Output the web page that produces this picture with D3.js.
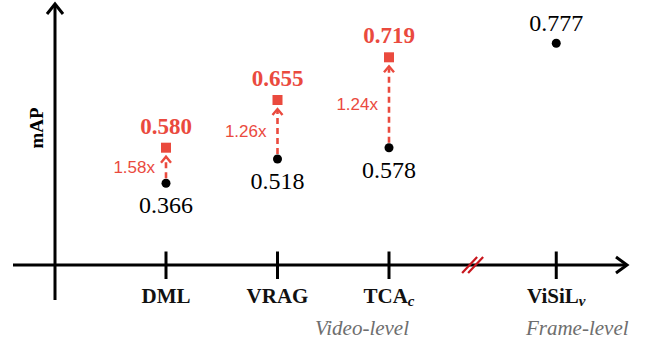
<!DOCTYPE html>
<html>
<head>
<meta charset="utf-8">
<script src="https://cdn.jsdelivr.net/npm/d3@7"></script>
<style>
  html, body { margin: 0; padding: 0; background: #fff; }
  svg { display: block; }
  .serif { font-family: "Liberation Serif", "Times New Roman", Tinos, "Noto Serif", "DejaVu Serif", serif; }
  .sans { font-family: "Liberation Sans", Arial, Roboto, sans-serif; }
</style>
</head>
<body>
<svg id="chart" width="655" height="345"></svg>
<script>
// ---- data ----
const categories = ["DML", "VRAG", "TCA", "ViSiL"];
const subscripts = ["", "", "c", "v"];
const groups = ["Video-level", "Video-level", "Video-level", "Frame-level"];
const baseline = [0.366, 0.518, 0.578, 0.777];
const improved = [0.580, 0.655, 0.719, null];
const speedups = ["1.58x", "1.26x", "1.24x", null];
const yAxisLabel = "mAP";

// ---- drawing ----
const svg = d3.select("#chart");
const RED = "#ea4a3e";

const axisY = 265, axisX = 55;

// x: index positions, with half-step gap between groups (axis break)
const xIndex = [];
let off = 0;
categories.forEach((c, i) => {
  if (i > 0 && groups[i] !== groups[i - 1]) off += 0.5;
  xIndex.push(i + off);
});
const x = d3.scaleLinear().domain([0, 2]).range([166, 389]);

// y: schematic (non-linear) value axis drawn as a polylinear scale
const yVals = [0.366, 0.518, 0.578, 0.580, 0.655, 0.719, 0.777];
const y = d3.scaleLinear()
  .domain(yVals)
  .range([183.3, 159, 147.7, 147.7, 100, 57.3, 43.3]);

// axes
const ax = svg.append("g").attr("stroke", "#000").attr("stroke-width", 3).attr("fill", "none");
ax.append("line").attr("x1", 13).attr("x2", 627).attr("y1", axisY).attr("y2", axisY);
ax.append("line").attr("x1", axisX).attr("x2", axisX).attr("y1", 4).attr("y2", 300);
ax.append("path").attr("d", `M${axisX - 8},14 L${axisX},4 L${axisX + 8},14`).attr("stroke-linejoin", "miter");
ax.append("path").attr("d", `M616,257 L627,265 L616,273`).attr("stroke-linejoin", "miter");

// ticks
categories.forEach((c, i) => {
  ax.append("line").attr("x1", x(xIndex[i])).attr("x2", x(xIndex[i]))
    .attr("y1", axisY - 13.5).attr("y2", axisY + 14);
});

// axis break
const bx = (x(xIndex[2]) + x(xIndex[3])) / 2;
[-3, 3].forEach(dx => {
  svg.append("line").attr("x1", bx + dx - 7.5).attr("y1", axisY + 8)
    .attr("x2", bx + dx + 7.5).attr("y2", axisY - 8)
    .attr("stroke", "#c8161d").attr("stroke-width", 2.2);
});

// y label
svg.append("text").attr("class", "serif").attr("transform", `translate(43,128) rotate(-90)`)
  .attr("text-anchor", "middle").attr("font-weight", "bold")
  .attr("font-size", 19).text(yAxisLabel);

// category labels
categories.forEach((c, i) => {
  const t = svg.append("text").attr("class", "serif").attr("x", x(xIndex[i])).attr("y", 303)
    .attr("text-anchor", "middle").attr("font-weight", "bold")
    .attr("font-size", 21).attr("fill", "#111");
  t.append("tspan").text(c);
  if (subscripts[i]) {
    t.append("tspan").attr("font-style", "italic").attr("font-size", 15).attr("dy", 3).text(subscripts[i]);
  }
});

// group labels
const groupPos = [{ g: "Video-level", ref: 2, dx: -27 }, { g: "Frame-level", ref: 3, dx: 21 }];
groupPos.forEach(p => {
  svg.append("text").attr("class", "serif").attr("x", x(xIndex[p.ref]) + p.dx).attr("y", 335)
    .attr("text-anchor", "middle").attr("font-style", "italic")
    .attr("font-size", 21).attr("fill", "#6e6e6e").text(p.g);
});

// arrows + improved points
categories.forEach((c, i) => {
  const cx = x(xIndex[i]);
  const yb = y(baseline[i]);
  if (improved[i] != null) {
    const yi = y(improved[i]);
    const tip = yi + 9;
    svg.append("line").attr("x1", cx).attr("x2", cx).attr("y1", yb - 5).attr("y2", tip + 2)
      .attr("stroke", RED).attr("stroke-width", 2.6).attr("stroke-dasharray", "6,4");
    svg.append("path").attr("d", `M${cx - 5},${tip + 6} L${cx},${tip} L${cx + 5},${tip + 6}`)
      .attr("stroke", RED).attr("stroke-width", 2.4).attr("fill", "none");
    svg.append("rect").attr("x", cx - 5).attr("y", yi - 5).attr("width", 10).attr("height", 10)
      .attr("fill", RED);
    svg.append("text").attr("class", "serif").attr("x", cx).attr("y", yi - 14).attr("text-anchor", "middle")
      .attr("font-weight", "bold").attr("font-size", 23)
      .attr("fill", RED).text(improved[i].toFixed(3));
    svg.append("text").attr("class", "sans").attr("x", cx - 11).attr("y", (yb + yi) / 2 + 7).attr("text-anchor", "end")
      .attr("font-size", 17).attr("fill", RED).text(speedups[i]);
  }
  svg.append("circle").attr("cx", cx).attr("cy", yb).attr("r", 4.5).attr("fill", "#000");
  const below = improved[i] != null;
  svg.append("text").attr("class", "serif").attr("x", cx).attr("y", below ? yb + 30 : yb - 12)
    .attr("text-anchor", "middle").attr("font-size", 24)
    .attr("fill", "#000").text(baseline[i].toFixed(3));
});
</script>
</body>
</html>
